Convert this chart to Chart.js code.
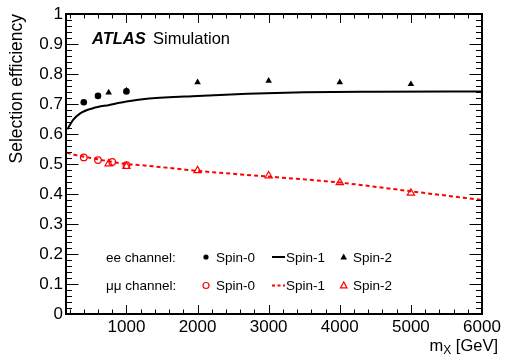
<!DOCTYPE html>
<html>
<head>
<meta charset="utf-8">
<script src="https://cdn.jsdelivr.net/npm/chart.js@4"></script>
<style>
  body { margin: 0; background: #fff; }
  canvas { display: block; }
</style>
</head>
<body>
<canvas id="effChart" width="505" height="356"></canvas>
<script>
// x axis: m_X in GeV
const xMin = 150;
const xMax = 6000;
const xTickValues = [1000, 2000, 3000, 4000, 5000, 6000];

// ee channel
const eeSpin0Mass = [400, 600, 1000];
const eeSpin0Eff = [0.706, 0.727, 0.742];
const eeSpin1Mass = [170, 250, 350, 530, 760, 1000, 1320, 2000, 2700, 3500, 4500, 6000];
const eeSpin1Eff = [0.616, 0.647, 0.669, 0.686, 0.697, 0.708, 0.718, 0.727, 0.734, 0.739, 0.741, 0.742];
const eeSpin2Mass = [750, 1000, 2000, 3000, 4000, 5000];
const eeSpin2Eff = [0.738, 0.745, 0.772, 0.777, 0.772, 0.766];

// mumu channel
const mmSpin0Mass = [400, 600, 800, 1000];
const mmSpin0Eff = [0.522, 0.513, 0.507, 0.496];
const mmSpin1Mass = [160, 300, 500, 750, 1000, 1300, 1750, 2000, 3000, 4000, 5000, 6000];
const mmSpin1Eff = [0.538, 0.529, 0.520, 0.509, 0.500, 0.494, 0.483, 0.477, 0.458, 0.438, 0.409, 0.380];
const mmSpin2Mass = [750, 1000, 2000, 3000, 4000, 5000];
const mmSpin2Eff = [0.501, 0.492, 0.478, 0.461, 0.438, 0.403];

const FONT = "'Liberation Sans', Arial, Helvetica, sans-serif";
const RED = '#ff0000';

const pts = (xs, ys) => xs.map((x, i) => ({ x: x, y: ys[i] }));

// frame, inward ticks, ATLAS label, legend and x title
const rootStyle = {
    id: 'rootStyle',
    afterDraw(chart) {
        const ctx = chart.ctx;
        const a = chart.chartArea;
        const xs = chart.scales.x;
        const ys = chart.scales.y;
        ctx.save();
        ctx.strokeStyle = '#000';
        ctx.lineWidth = 1;

        // x ticks every 200, major every 1000
        ctx.beginPath();
        for (let v = 200; v <= xMax; v += 200) {
            const px = Math.round(xs.getPixelForValue(v)) + 0.5;
            const len = v % 1000 === 0 ? 9 : 4.5;
            ctx.moveTo(px, a.bottom); ctx.lineTo(px, a.bottom - len);
            ctx.moveTo(px, a.top); ctx.lineTo(px, a.top + len);
        }
        // y ticks every 0.02, major every 0.1
        for (let i = 0; i <= 50; i++) {
            const py = Math.round(ys.getPixelForValue(i / 50)) + 0.5;
            const len = i % 5 === 0 ? 12.5 : 6;
            ctx.moveTo(a.left, py); ctx.lineTo(a.left + len, py);
            ctx.moveTo(a.right, py); ctx.lineTo(a.right - len, py);
        }
        ctx.stroke();

        ctx.lineWidth = 2;
        ctx.strokeRect(a.left, a.top, a.right - a.left, a.bottom - a.top);

        // ATLAS Simulation
        ctx.fillStyle = '#000';
        ctx.textBaseline = 'alphabetic';
        ctx.textAlign = 'left';
        ctx.font = 'italic bold 16.5px ' + FONT;
        ctx.fillText('ATLAS', 92, 44);
        ctx.font = '16.5px ' + FONT;
        ctx.fillText('Simulation', 153, 44);

        // legend
        ctx.font = '13.5px ' + FONT;
        const rows = [
            { label: 'ee channel:', y: 257, color: '#000', open: false, dash: [] },
            { label: 'μμ channel:', y: 285.5, color: RED, open: true, dash: [3, 2.5] }
        ];
        rows.forEach(r => {
            ctx.fillStyle = '#000';
            ctx.fillText(r.label, 106, r.y + 4.7);
            ctx.fillText('Spin-0', 216, r.y + 4.7);
            ctx.fillText('Spin-1', 286, r.y + 4.7);
            ctx.fillText('Spin-2', 353, r.y + 4.7);

            ctx.strokeStyle = r.color;
            ctx.fillStyle = r.color;
            // circle
            ctx.lineWidth = 1.2;
            ctx.setLineDash([]);
            ctx.beginPath();
            ctx.arc(206, r.y, r.open ? 3 : 2.6, 0, Math.PI * 2);
            r.open ? ctx.stroke() : ctx.fill();
            // line
            ctx.lineWidth = 2;
            ctx.setLineDash(r.dash);
            ctx.beginPath();
            ctx.moveTo(272, r.y); ctx.lineTo(285, r.y);
            ctx.stroke();
            ctx.setLineDash([]);
            // triangle
            ctx.lineWidth = 1.2;
            ctx.beginPath();
            ctx.moveTo(343.7, r.y - 3.6);
            ctx.lineTo(347, r.y + 2.4);
            ctx.lineTo(340.4, r.y + 2.4);
            ctx.closePath();
            r.open ? ctx.stroke() : ctx.fill();
        });

        // x title: m_X [GeV], right aligned
        ctx.fillStyle = '#000';
        const big = '16.5px ' + FONT;
        const small = '12px ' + FONT;
        ctx.font = big;
        const wM = ctx.measureText('m').width;
        const wRest = ctx.measureText(' [GeV]').width;
        ctx.font = small;
        const wX = ctx.measureText('X').width;
        let x0 = 498 - wRest - wX - wM;
        ctx.font = big;
        ctx.fillText('m', x0, 350.7);
        ctx.font = small;
        ctx.fillText('X', x0 + wM, 354);
        ctx.font = big;
        ctx.fillText(' [GeV]', x0 + wM + wX, 350.7);
        ctx.restore();
    }
};

new Chart(document.getElementById('effChart').getContext('2d'), {
    type: 'scatter',
    data: {
        datasets: [
            {
                label: 'ee Spin-1',
                data: pts(eeSpin1Mass, eeSpin1Eff),
                showLine: true,
                borderColor: '#000',
                borderWidth: 2,
                pointRadius: 0,
                cubicInterpolationMode: 'monotone'
            },
            {
                label: 'mumu Spin-1',
                data: pts(mmSpin1Mass, mmSpin1Eff),
                showLine: true,
                borderColor: RED,
                borderWidth: 2,
                borderDash: [4, 3],
                pointRadius: 0,
                cubicInterpolationMode: 'monotone'
            },
            {
                label: 'ee Spin-0',
                data: pts(eeSpin0Mass, eeSpin0Eff),
                pointStyle: 'circle',
                pointRadius: 3.3,
                backgroundColor: '#000',
                borderColor: '#000',
                borderWidth: 0
            },
            {
                label: 'ee Spin-2',
                data: pts(eeSpin2Mass, eeSpin2Eff),
                pointStyle: 'triangle',
                pointRadius: 3.8,
                backgroundColor: '#000',
                borderColor: '#000',
                borderWidth: 0
            },
            {
                label: 'mumu Spin-0',
                data: pts(mmSpin0Mass, mmSpin0Eff),
                pointStyle: 'circle',
                pointRadius: 3.3,
                backgroundColor: 'rgba(0,0,0,0)',
                borderColor: RED,
                borderWidth: 1.2
            },
            {
                label: 'mumu Spin-2',
                data: pts(mmSpin2Mass, mmSpin2Eff),
                pointStyle: 'triangle',
                pointRadius: 4.2,
                backgroundColor: 'rgba(0,0,0,0)',
                borderColor: RED,
                borderWidth: 1.2
            }
        ]
    },
    options: {
        responsive: false,
        animation: false,
        layout: { padding: { top: 14, right: 23, left: 0, bottom: 0 } },
        plugins: {
            legend: { display: false },
            tooltip: { enabled: false }
        },
        scales: {
            x: {
                type: 'linear',
                min: xMin,
                max: xMax,
                grid: { display: false, drawTicks: false },
                border: { display: false },
                afterBuildTicks: s => { s.ticks = xTickValues.map(v => ({ value: v })); },
                afterFit: s => { s.height = 42; },
                ticks: {
                    color: '#000',
                    padding: 3,
                    maxRotation: 0,
                    font: { family: FONT, size: 17 },
                    callback: v => String(v)
                }
            },
            y: {
                min: 0,
                max: 1,
                grid: { display: false, drawTicks: false },
                border: { display: false },
                afterFit: s => { s.width = 66; },
                ticks: {
                    stepSize: 0.1,
                    color: '#000',
                    padding: 3,
                    font: { family: FONT, size: 17 },
                    callback: v => String(Number(v.toFixed(1)))
                },
                title: {
                    display: true,
                    text: 'Selection efficiency',
                    align: 'end',
                    color: '#000',
                    padding: { top: 7, bottom: 0 },
                    font: { family: FONT, size: 17.5 }
                }
            }
        }
    },
    plugins: [rootStyle]
});
</script>
</body>
</html>
